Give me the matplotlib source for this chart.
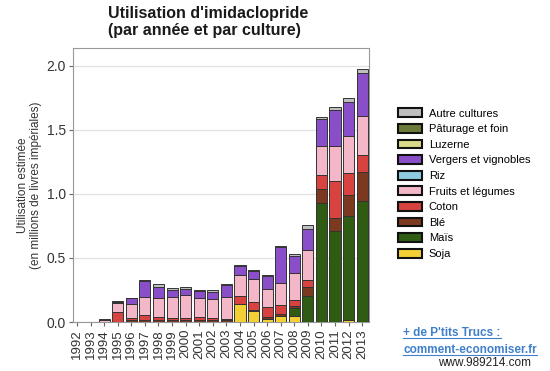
import numpy as np
import matplotlib
matplotlib.use("Agg")
from matplotlib import pyplot as plt
from matplotlib.patches import Patch
from matplotlib.lines import Line2D

plt.rcParams["font.family"] = ["Liberation Sans", "DejaVu Sans"]

annees = [str(a) for a in range(1992, 2014)]

# valeurs en millions de livres, 1992 -> 2013
soja = [0, 0, 0, 0, 0, 0, 0, 0, 0, 0, 0, 0, 0.138, 0.083, 0.026, 0.044, 0.049, 0, 0, 0, 0.013, 0]
mais = [0, 0, 0, 0, 0, 0, 0, 0, 0, 0, 0, 0, 0, 0, 0, 0, 0.062, 0.20, 0.929, 0.714, 0.813, 0.948]
ble = [0, 0, 0, 0, 0.015, 0.015, 0.018, 0.018, 0.018, 0.018, 0.018, 0.013, 0, 0.008, 0.013, 0.016, 0.018, 0.073, 0.109, 0.096, 0.169, 0.226]
coton = [0, 0, 0, 0.08, 0.015, 0.04, 0.02, 0.013, 0.013, 0.02, 0.013, 0.013, 0.062, 0.065, 0.078, 0.075, 0.044, 0.052, 0.112, 0.293, 0.166, 0.132]
fruits = [0, 0, 0.015, 0.07, 0.11, 0.14, 0.148, 0.163, 0.18, 0.15, 0.145, 0.17, 0.169, 0.177, 0.143, 0.169, 0.208, 0.234, 0.223, 0.273, 0.288, 0.306]
riz = [0] * 22
vergers = [0, 0, 0, 0.01, 0.045, 0.125, 0.09, 0.057, 0.044, 0.052, 0.055, 0.096, 0.07, 0.062, 0.099, 0.28, 0.135, 0.169, 0.208, 0.278, 0.265, 0.33]
luzerne = [0] * 22
paturage = [0] * 22
autre = [0, 0, 0.008, 0.003, 0.005, 0.01, 0.02, 0.015, 0.018, 0.01, 0.02, 0.005, 0.008, 0.013, 0.01, 0.013, 0.016, 0.026, 0.021, 0.026, 0.034, 0.034]

series = [
    ("Soja", soja, "#f2cf35"),
    ("Maïs", mais, "#2f5c12"),
    ("Blé", ble, "#7b3a1f"),
    ("Coton", coton, "#d8433f"),
    ("Fruits et légumes", fruits, "#f3b7c7"),
    ("Riz", riz, "#8fcbe0"),
    ("Vergers et vignobles", vergers, "#8a4fc8"),
    ("Luzerne", luzerne, "#d9d98a"),
    ("Pâturage et foin", paturage, "#6a7b3a"),
    ("Autre cultures", autre, "#c0bfc0"),
]

fig = plt.figure(figsize=(5.5, 3.71), dpi=100)
ax = fig.add_axes([0.1327, 0.132, 0.538, 0.739])

x = np.arange(len(annees))
bas = np.zeros(len(annees))
for nom, vals, coul in series:
    vals = np.array(vals)
    ax.bar(x, vals, 0.82, bottom=bas, color=coul, edgecolor="#333333", linewidth=0.7, zorder=3)
    bas += vals

ax.set_xlim(-0.3, 21.5)
ax.set_ylim(0, 2.14)
ax.set_yticks([0, 0.5, 1.0, 1.5, 2.0])
ax.set_yticklabels(["0.0", "0.5", "1.0", "1.5", "2.0"], fontsize=10, color="#333333")
ax.set_xticks(x)
ax.set_xticklabels(annees, rotation=90, fontsize=9.5, color="#333333")
ax.tick_params(axis="both", length=3, color="#666666", pad=2)
ax.grid(axis="y", color="#e3e3e3", linewidth=1, zorder=0)
for s in ax.spines.values():
    s.set_color("#999999")
    s.set_linewidth(0.8)

ax.set_ylabel("Utilisation estimée\n(en millions de livres impériales)", fontsize=8.5, color="#333333", labelpad=3)

poignees = [Patch(facecolor=c, edgecolor="#111111", linewidth=1.5, label=n) for n, v, c in series[::-1]]
fig.legend(handles=poignees, loc="upper left", bbox_to_anchor=(0.705, 0.735), frameon=False,
           fontsize=8, handlelength=2.2, handleheight=0.85, labelspacing=0.48, handletextpad=0.6)

fig.text(0.197, 0.985, "Utilisation d'imidaclopride\n(par année et par culture)", ha="left", va="top",
         fontsize=11.5, fontweight="bold", color="#1a1a1a", linespacing=1.2)

t1 = fig.text(0.733, 0.103, "+ de P'tits Trucs :", ha="left", va="center", fontsize=8.5, fontweight="bold", color="#3f7fcc")
t2 = fig.text(0.733, 0.057, "comment-economiser.fr", ha="left", va="center", fontsize=8.5, fontweight="bold", color="#3f7fcc")
fig.text(0.965, 0.005, "www.989214.com", ha="right", va="bottom", fontsize=8.5, color="#222222")

# soulignement des liens
fig.canvas.draw()
r = fig.canvas.get_renderer()
for t in (t1, t2):
    bb = t.get_window_extent(r).transformed(fig.transFigure.inverted())
    fig.add_artist(Line2D([bb.x0, bb.x1], [bb.y0 + 0.002, bb.y0 + 0.002], transform=fig.transFigure,
                          color="#3f7fcc", linewidth=0.8))

fig.savefig("out.png", dpi=100)
